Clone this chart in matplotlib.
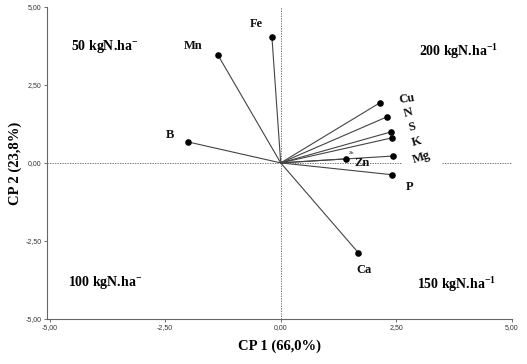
import numpy as np
import matplotlib
matplotlib.use("Agg")
import matplotlib.pyplot as plt
from matplotlib.ticker import FixedLocator, FuncFormatter

# loadings (CP1, CP2)
variables = ["Mn", "Fe", "B", "Cu", "N", "S", "K", "Mg", "Zn", "P", "Ca"]
cp1 = [-1.36, -0.19, -2.00, 2.14, 2.29, 2.38, 2.40, 2.44, 1.42, 2.41, 1.68]
cp2 = [3.46, 4.04, 0.67, 1.92, 1.47, 0.99, 0.80, 0.22, 0.13, -0.38, -2.88]

# label positions and rotations
lab_x = [-1.9, -0.52, -2.40, 2.72, 2.76, 2.83, 2.94, 3.05, 1.76, 2.79, 1.81]
lab_y = [3.75, 4.45, 0.90, 2.05, 1.60, 1.15, 0.67, 0.16, 0.00, -0.77, -3.43]
lab_rot = [0, 0, 0, 8, 15, 15, 15, 18, 0, 0, 0]

groups = ["50 kgN.ha$^{-}$", "200 kgN.ha$^{-1}$", "100 kgN.ha$^{-}$", "150 kgN.ha$^{-1}$"]
group_x = [-3.8, 3.84, -3.8, 3.8]
group_y = [3.72, 3.56, -3.85, -3.9]

ticks = [-5, -2.5, 0, 2.5, 5]

plt.rcParams["font.family"] = ["Liberation Serif", "DejaVu Serif"]
plt.rcParams["mathtext.fontset"] = "custom"
plt.rcParams["mathtext.rm"] = "Liberation Serif:bold"
plt.rcParams["mathtext.it"] = "Liberation Serif:bold"
plt.rcParams["mathtext.bf"] = "Liberation Serif:bold"

fig = plt.figure(figsize=(5.27, 3.64), dpi=100)
ax = fig.add_axes([0.089, 0.124, 0.882, 0.857])

dot = dict(color="#555555", lw=0.6, ls=(0, (1.5, 1.5)))
ax.hlines(0, -5.06, 2.6, **dot)
ax.hlines(0, 3.5, 5, **dot)
ax.axvline(0, **dot)

for x, y in zip(cp1, cp2):
    ax.plot([0, x], [0, y], color="#444444", lw=0.8)
ax.scatter(cp1, cp2, s=14, color="black", zorder=3)

for name, x, y, r in zip(variables, lab_x, lab_y, lab_rot):
    ax.text(x, y, name, fontsize=9, fontweight="bold", rotation=r,
            ha="center", va="center", color="#111111")
ax.text(1.53, 0.33, "Zn", fontsize=3.5, ha="center", va="center")

for g, x, y in zip(groups, group_x, group_y):
    ax.text(x, y, g, fontsize=10, fontweight="bold", ha="center", va="center")

ax.set_xlim(-5.06, 5)
ax.set_ylim(-5, 5)
ax.xaxis.set_major_locator(FixedLocator(ticks))
ax.yaxis.set_major_locator(FixedLocator(ticks))
fmt = FuncFormatter(lambda v, p: f"{v:.2f}".replace(".", ","))
ax.xaxis.set_major_formatter(fmt)
ax.yaxis.set_major_formatter(fmt)
ax.tick_params(labelsize=5, length=2, width=0.6, colors="#555555",
               labelcolor="#333333", pad=2)
for lab in ax.get_xticklabels() + ax.get_yticklabels():
    lab.set_family(["Liberation Sans", "DejaVu Sans"])
for side in ["top", "right"]:
    ax.spines[side].set_visible(False)
for side in ["left", "bottom"]:
    ax.spines[side].set_color("#666666")
    ax.spines[side].set_linewidth(0.8)

ax.set_xlabel("CP 1 (66,0%)", fontsize=10.5, fontweight="bold", labelpad=6)
ax.set_ylabel("CP 2 (23,8%)", fontsize=10.5, fontweight="bold")
ax.yaxis.set_label_coords(-0.054, 0.5)

fig.savefig("out.png", dpi=100)
